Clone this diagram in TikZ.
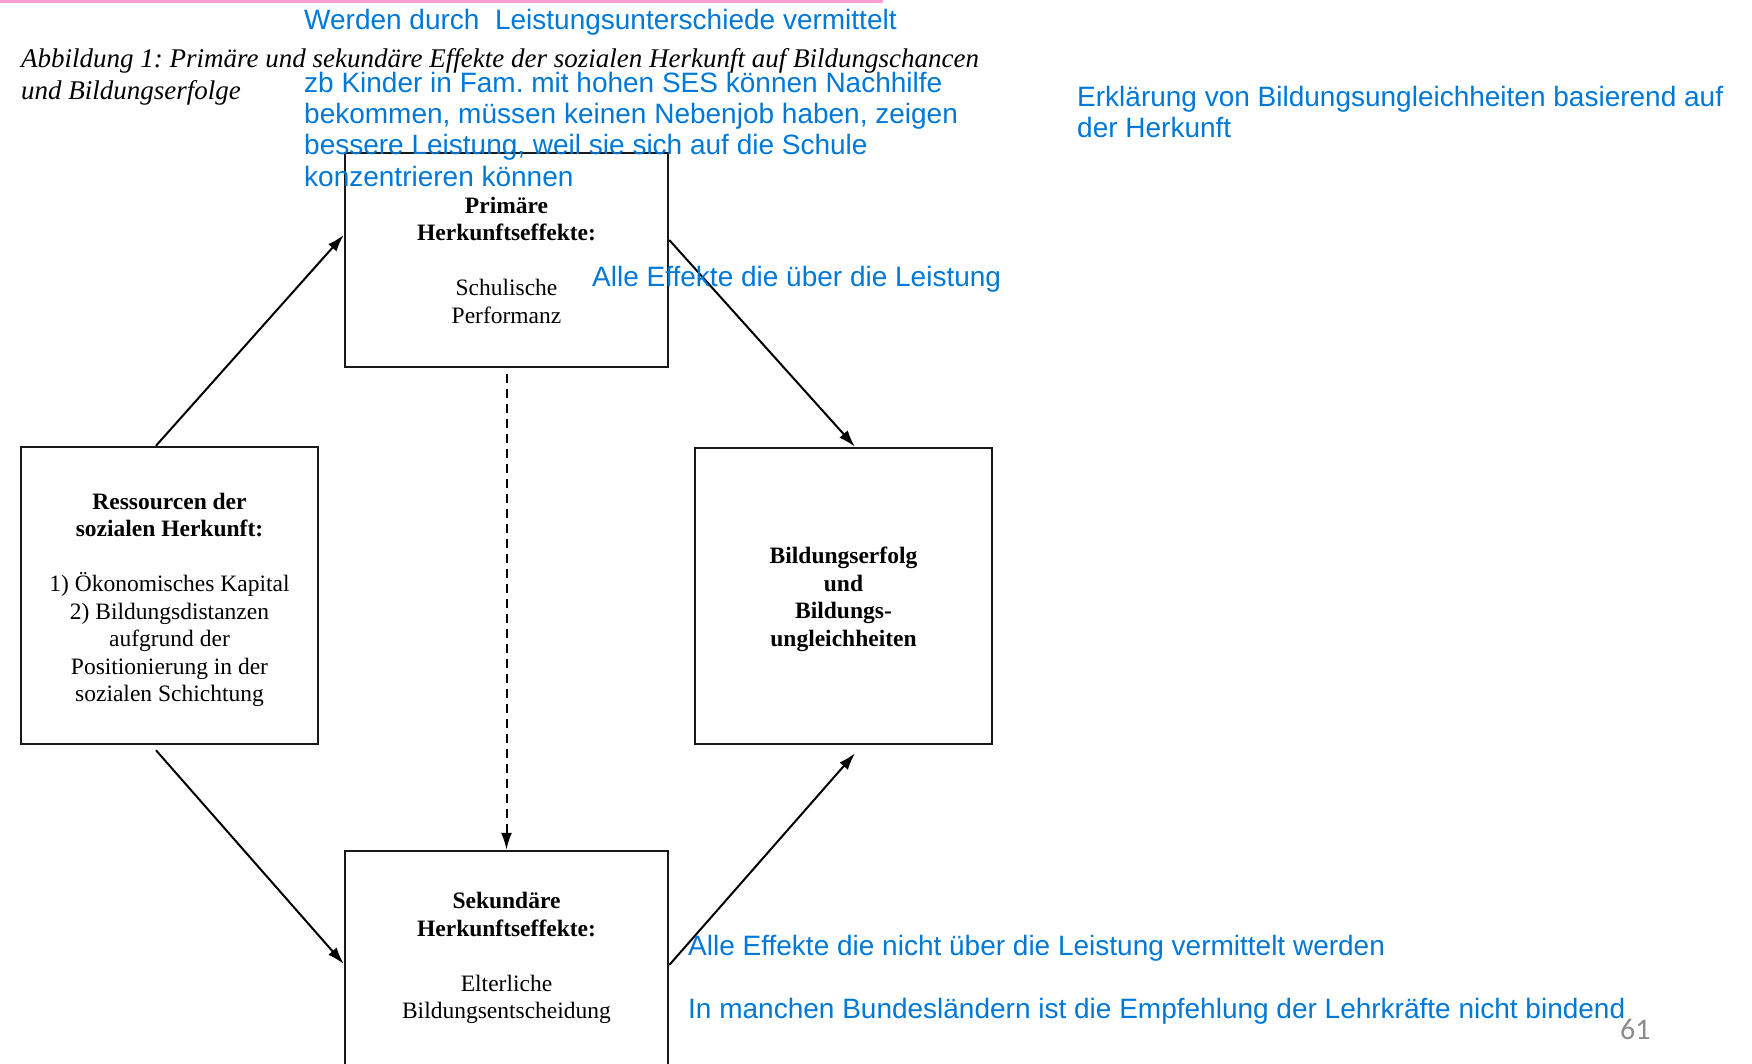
\documentclass[tikz,border=0pt]{standalone}
\usepackage{fontspec}
\setmainfont{Liberation Serif}
\newfontfamily\notefont{Liberation Sans}
\newfontfamily\numfont{Carlito}
\usetikzlibrary{arrows.meta}
\definecolor{noteblue}{RGB}{0,120,215}
\definecolor{pinkbar}{RGB}{248,160,212}
\definecolor{pagegray}{RGB}{140,140,140}
\frenchspacing

\begin{document}
\begin{tikzpicture}[x=1pt,y=-1pt,>={Latex[length=17pt,width=11pt]},
    effbox/.style={draw=black!90,line width=2.5pt,align=center,inner sep=0pt,
        font=\fontsize{23.5}{27.5}\selectfont},
    note/.style={anchor=base west,inner sep=0pt,align=left,text=noteblue,
        font=\notefont\fontsize{28}{31.3}\selectfont},
    link/.style={->,line width=2pt}]

    \useasboundingbox (0,0) rectangle (1752,1063);
    \fill[pinkbar] (0,0) rectangle (883,3);

    % Caption (base = last line)
    \node[anchor=base west,inner sep=0pt,align=left,font=\itshape\fontsize{27}{32}\selectfont] (caption) at (21,99)
        {Abbildung 1: Primäre und sekundäre Effekte der sozialen Herkunft auf Bildungschancen\\und Bildungserfolge};

    % the four boxes
    \node[effbox,minimum width=323pt,minimum height=214pt] (prim) at (506.5,260)
        {\textbf{Primäre}\\\textbf{Herkunftseffekte:}\\[27.5pt]Schulische\\Performanz};
    \node[effbox,minimum width=297pt,minimum height=297pt] (ress) at (169.5,595.5)
        {\rule{0pt}{25pt}\textbf{Ressourcen der}\\\textbf{sozialen Herkunft:}\\[27.5pt]1) Ökonomisches Kapital\\2) Bildungsdistanzen\\aufgrund der\\Positionierung in der\\sozialen Schichtung};
    \node[effbox,minimum width=297pt,minimum height=296pt] (erfolg) at (843.5,596)
        {\rule{0pt}{23pt}\textbf{Bildungserfolg}\\\textbf{und}\\\textbf{Bildungs-}\\\textbf{ungleichheiten}};
    \node[effbox,minimum width=323pt,minimum height=214pt] (sek) at (506.5,958)
        {\textbf{Sekundäre}\\\textbf{Herkunftseffekte:}\\[27.5pt]Elterliche\\Bildungsentscheidung};

    % arrows
    \draw[link] ([xshift=-13.5pt]ress.north) -- ([yshift=25pt]prim.west);
    \draw[link] ([yshift=20pt]prim.east) -- ([xshift=11.5pt]erfolg.north);
    \draw[link] ([xshift=-13.5pt,yshift=-5pt]ress.south) -- ([yshift=-6pt]sek.west);
    \draw[link] ([yshift=-7pt]sek.east) -- ([xshift=11.5pt,yshift=-8pt]erfolg.south);
    \draw[->,line width=2pt,dash pattern=on 9pt off 6pt] ([yshift=-6pt]prim.south) -- (sek.north);

    % blue notes (base = last line)
    \node[note] (n-werden) at (304,29.5) {Werden durch\ \ Leistungsunterschiede vermittelt};
    \node[note] (n-zb) at (304,186) {zb Kinder in Fam. mit hohen SES können Nachhilfe\\bekommen, müssen keinen Nebenjob haben, zeigen\\bessere Leistung, weil sie sich auf die Schule\\konzentrieren können};
    \node[note] (n-erkl) at (1077,137.3) {Erklärung von Bildungsungleichheiten basierend auf\\der Herkunft};
    \node[note] (n-alle) at (592,286) {Alle Effekte die über die Leistung};
    \node[note] (n-nicht) at (688,955) {Alle Effekte die nicht über die Leistung vermittelt werden};
    \node[note] (n-land) at (688,1018) {In manchen Bundesländern ist die Empfehlung der Lehrkräfte nicht bindend};

    \node[anchor=base west,inner sep=0pt,text=pagegray,font=\numfont\fontsize{30}{36}\selectfont] (page) at (1620,1039) {61};

\end{tikzpicture}
\end{document}
